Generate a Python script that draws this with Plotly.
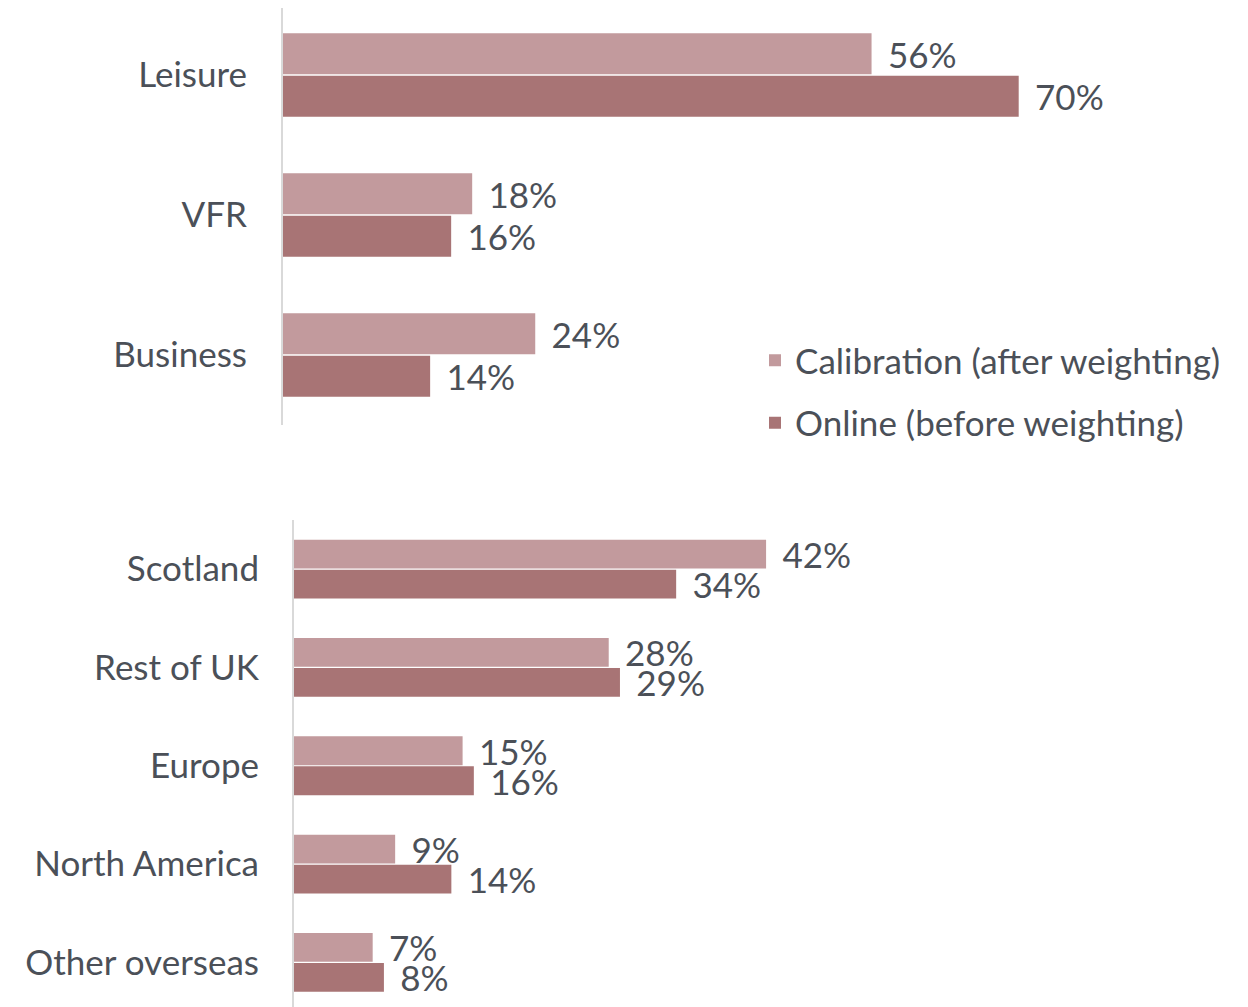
import plotly.graph_objects as go

purpose_cats = ["Leisure", "VFR", "Business"]
purpose_calib = [56, 18, 24]
purpose_online = [70, 16, 14]

origin_cats = ["Scotland", "Rest of UK", "Europe", "North America", "Other overseas"]
origin_calib = [42, 28, 15, 9, 7]
origin_online = [34, 29, 16, 14, 8]

series_names = ["Calibration (after weighting)", "Online (before weighting)"]
colors = ["#C29A9D", "#A87475"]

W, H = 1240, 999
FONT = "Lato"
TXT = "#4B5058"
FS = 35

fig = go.Figure()

def add(cats, vals, name, color, xa, ya, show):
    fig.add_trace(go.Bar(
        y=cats, x=vals, orientation="h", name=name,
        marker=dict(color=color, line=dict(width=0)),
        texttemplate="\u00a0\u2009%{x}%", textposition="outside",
        constraintext="none", cliponaxis=False,
        textfont=dict(family=FONT, size=FS, color=TXT),
        xaxis=xa, yaxis=ya, showlegend=show, legendgroup=name,
        hoverinfo="skip"))

add(purpose_cats, purpose_calib, series_names[0], colors[0], "x", "y", True)
add(purpose_cats, purpose_online, series_names[1], colors[1], "x", "y", True)
add(origin_cats, origin_calib, series_names[0], colors[0], "x2", "y2", False)
add(origin_cats, origin_online, series_names[1], colors[1], "x2", "y2", False)

top_px_per = 10.51
bot_px_per = 11.24
x0_top, x0_bot = 275, 286
top_band, bot_band = 140.0, 98.3

fig.update_layout(
    width=W, height=H, margin=dict(l=0, r=0, t=0, b=0),
    paper_bgcolor="white", plot_bgcolor="white",
    barmode="group", bargap=0.39, bargroupgap=0.04,
    font=dict(family=FONT, size=FS, color=TXT),
    xaxis=dict(domain=[x0_top / W, 1], range=[0, (W - x0_top) / top_px_per],
               visible=False, anchor="y"),
    yaxis=dict(domain=[(H - 417) / H, 1], anchor="x",
               categoryorder="array", categoryarray=purpose_cats,
               range=[2.5, -0.5 + 3 / top_band], showline=True, linecolor="#D9D9D9", linewidth=2,
               showgrid=False, zeroline=False, ticks="", ticklabelstandoff=27,
               tickfont=dict(family=FONT, size=FS, color=TXT)),
    xaxis2=dict(domain=[x0_bot / W, 1], range=[0, (W - x0_bot) / bot_px_per],
                visible=False, anchor="y2"),
    yaxis2=dict(domain=[0, (H - 512) / H], anchor="x2",
                categoryorder="array", categoryarray=origin_cats,
                range=[(H - 512) / bot_band - 0.5, -0.5], showline=True,
                linecolor="#D9D9D9", linewidth=2,
                showgrid=False, zeroline=False, ticks="", ticklabelstandoff=26,
                tickfont=dict(family=FONT, size=FS, color=TXT)),
    legend=dict(x=747 / W, y=(H - 323) / H, xanchor="left", yanchor="top",
                font=dict(family=FONT, size=FS, color=TXT),
                tracegroupgap=14, bgcolor="rgba(0,0,0,0)", itemwidth=30),
)

fig.write_html("out.html")
